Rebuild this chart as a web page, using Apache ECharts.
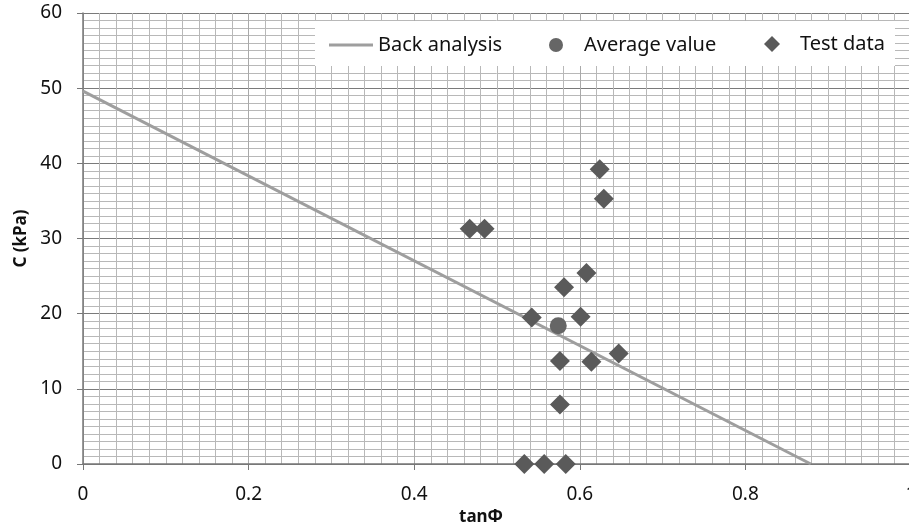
<!DOCTYPE html>
<html>
<head>
<meta charset="utf-8">
<script src="https://cdn.jsdelivr.net/npm/echarts@6/dist/echarts.min.js"></script>
<style>
  html, body { margin: 0; padding: 0; background: #fff; }
  #chart { width: 909px; height: 525px; }
</style>
</head>
<body>
<div id="chart"></div>
<script>
// ---- data ----
const seriesNames = ['Back analysis', 'Average value', 'Test data'];
const backAnalysisX = [0, 0.879];
const backAnalysisC = [49.6, 0];
const averageX = [0.574];
const averageC = [18.4];
const testX = [0.624, 0.629, 0.467, 0.485, 0.608, 0.581, 0.542, 0.601, 0.576, 0.614, 0.647, 0.576, 0.533, 0.557, 0.583];
const testC = [39.2, 35.3, 31.3, 31.3, 25.4, 23.5, 19.5, 19.6, 13.7, 13.6, 14.7, 7.9, 0, 0, 0];
const xTicks = [0, 0.2, 0.4, 0.6, 0.8, 1];
const yTicks = [0, 10, 20, 30, 40, 50, 60];

const zip = (xs, ys) => xs.map((x, i) => [x, ys[i]]);
const FONT = '"Noto Sans", "DejaVu Sans", sans-serif';
const legendText = { fontFamily: FONT, fontSize: 20, color: '#111' };

const chart = echarts.init(document.getElementById('chart'), null, { renderer: 'canvas' });
chart.setOption({
  backgroundColor: '#ffffff',
  animation: false,
  grid: { left: 83, right: -2, top: 13, bottom: 61, containLabel: false, outerBoundsMode: 'none' },
  graphic: [{
    type: 'rect', z: 3, silent: true,
    shape: { x: 315, y: 21, width: 580, height: 45 },
    style: { fill: '#ffffff' }
  }],
  legend: [
    {
      data: [{ name: seriesNames[0], icon: 'path://M0,6 L44,6 L44,9 L0,9 Z' }],
      left: 329, top: 35, padding: 0, z: 5,
      itemWidth: 44, itemHeight: 14, textStyle: legendText
    },
    {
      data: [{ name: seriesNames[1], icon: 'circle' }],
      left: 549, top: 35, padding: 0, z: 5,
      itemWidth: 14, itemHeight: 14,
      textStyle: Object.assign({ padding: [0, 0, 0, 16] }, legendText)
    },
    {
      data: [{ name: seriesNames[2], icon: 'diamond' }],
      left: 764, top: 34, padding: 0, z: 5,
      itemWidth: 16, itemHeight: 16,
      textStyle: Object.assign({ padding: [0, 0, 0, 15] }, legendText)
    }
  ],
  xAxis: {
    type: 'value', min: xTicks[0], max: xTicks[xTicks.length - 1], interval: 0.2,
    name: 'tanΦ', nameLocation: 'middle', nameGap: 43,
    nameTextStyle: { fontFamily: FONT, fontSize: 17, fontWeight: 'bold', color: '#111', padding: [0, 32, 0, 0] },
    axisLine: { show: true, lineStyle: { color: '#777', width: 1.5 } },
    axisTick: { show: true, length: 6, lineStyle: { color: '#777' } },
    axisLabel: { margin: 21, fontFamily: FONT, fontSize: 19, color: '#111',
      formatter: v => String(+v.toFixed(1)) },
    splitLine: { show: true, lineStyle: { color: '#a9a9a9', width: 1 } },
    minorTick: { show: false, splitNumber: 10 },
    minorSplitLine: { show: true, lineStyle: { color: '#b8b8b8', width: 1 } }
  },
  yAxis: {
    type: 'value', min: yTicks[0], max: yTicks[yTicks.length - 1], interval: 10,
    name: 'C (kPa)', nameLocation: 'middle', nameGap: 50,
    nameTextStyle: { fontFamily: FONT, fontSize: 17, fontWeight: 'bold', color: '#111' },
    axisLine: { show: true, lineStyle: { color: '#777', width: 1.5 } },
    axisTick: { show: true, length: 6, lineStyle: { color: '#777' } },
    axisLabel: { margin: 21, fontFamily: FONT, fontSize: 19, color: '#111' },
    splitLine: { show: true, lineStyle: { color: '#7a7a7a', width: 1.2 } },
    minorTick: { show: false, splitNumber: 10 },
    minorSplitLine: { show: true, lineStyle: { color: '#b8b8b8', width: 1 } }
  },
  series: [
    {
      name: seriesNames[0], type: 'line', data: zip(backAnalysisX, backAnalysisC),
      showSymbol: false, symbol: 'none',
      lineStyle: { color: '#9e9e9e', width: 3 }, itemStyle: { color: '#9e9e9e' }, z: 3
    },
    {
      name: seriesNames[1], type: 'scatter', data: zip(averageX, averageC),
      symbol: 'circle', symbolSize: 17,
      itemStyle: { color: '#666666', opacity: 1 }, z: 4
    },
    {
      name: seriesNames[2], type: 'scatter', data: zip(testX, testC),
      symbol: 'diamond', symbolSize: 20,
      itemStyle: { color: '#5a5a5a', opacity: 1 }, z: 5
    }
  ]
});
</script>
</body>
</html>
